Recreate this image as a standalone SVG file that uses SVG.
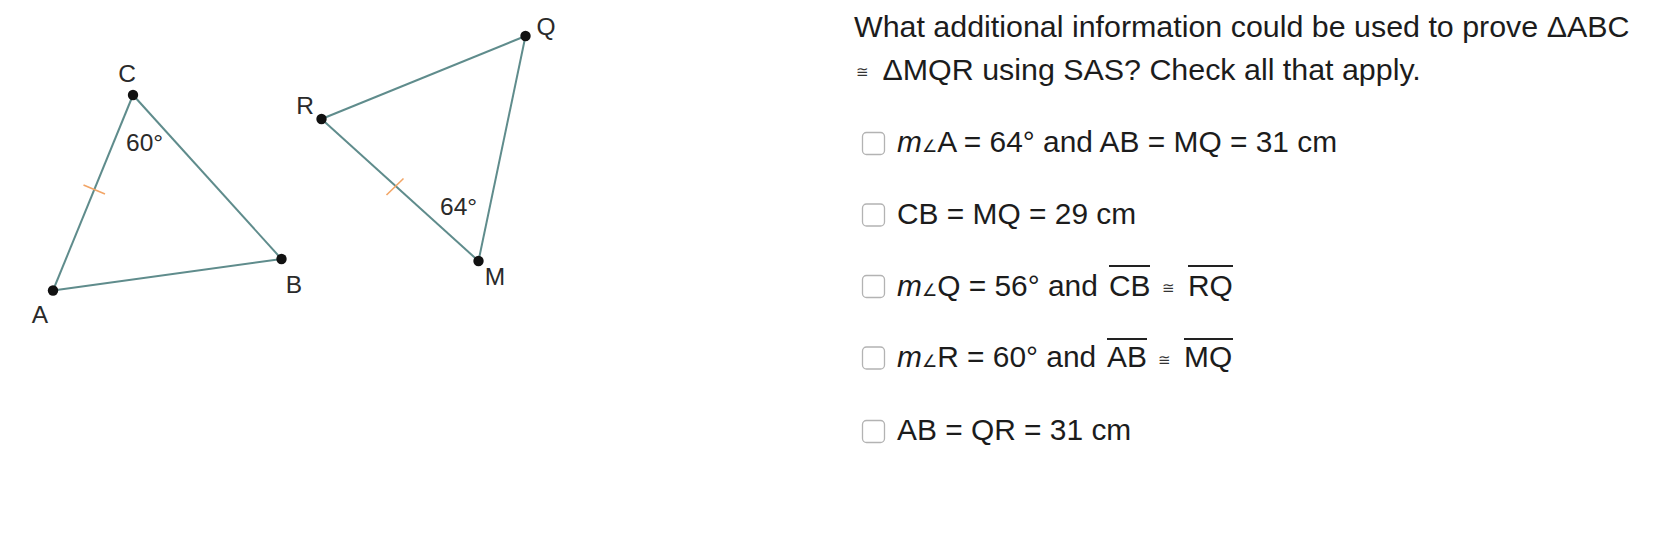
<svg xmlns="http://www.w3.org/2000/svg" width="1668" height="560" viewBox="0 0 1668 560">
<style>
.edge{stroke:#5f8c8c;stroke-width:2;fill:none}
.tick{stroke:#f2a566;stroke-width:1.6}
.dot{fill:#111}
.lbl{font-family:"Liberation Sans","DejaVu Sans",sans-serif;font-size:24.5px;fill:#2a2a2a}
.q{font-family:"Liberation Sans","DejaVu Sans",sans-serif;font-size:30.4px;fill:#1c1c1c}
.opt{font-family:"Liberation Sans","DejaVu Sans",sans-serif;font-size:29.9px;fill:#1c1c1c}
.sm{font-family:"DejaVu Sans",sans-serif;font-size:15px;fill:#333}
.ang{font-family:"DejaVu Sans",sans-serif;font-size:17px}
.box{fill:#fff;stroke:#b3b3b3;stroke-width:1.3}
.bar{stroke:#222;stroke-width:2}
</style>
<rect width="1668" height="560" fill="#fff"/>
<g id="connectors">
<line class="edge" x1="133" y1="95" x2="53" y2="290.5"/>
<line class="edge" x1="133" y1="95" x2="281.5" y2="259"/>
<line class="edge" x1="53" y1="290.5" x2="281.5" y2="259"/>
<line class="edge" x1="321.5" y1="119" x2="525.5" y2="36"/>
<line class="edge" x1="321.5" y1="119" x2="478.5" y2="261"/>
<line class="edge" x1="525.5" y1="36" x2="478.5" y2="261"/>
<line class="tick" x1="83.5" y1="185" x2="105" y2="194"/>
<line class="tick" x1="386.5" y1="195" x2="403.5" y2="178.5"/>
</g>
<g id="node-C"><circle class="dot" cx="133" cy="95" r="5.2"/><text class="lbl" x="127" y="81.5" text-anchor="middle">C</text></g>
<g id="node-A"><circle class="dot" cx="53" cy="290.5" r="5.2"/><text class="lbl" x="40" y="323" text-anchor="middle">A</text></g>
<g id="node-B"><circle class="dot" cx="281.5" cy="259" r="5.2"/><text class="lbl" x="294" y="293" text-anchor="middle">B</text></g>
<g id="node-R"><circle class="dot" cx="321.5" cy="119" r="5.2"/><text class="lbl" x="305" y="114" text-anchor="middle">R</text></g>
<g id="node-Q"><circle class="dot" cx="525.5" cy="36" r="5.2"/><text class="lbl" x="546" y="35" text-anchor="middle">Q</text></g>
<g id="node-M"><circle class="dot" cx="478.5" cy="261" r="5.2"/><text class="lbl" x="495" y="285" text-anchor="middle">M</text></g>
<g id="angle-C"><text class="lbl" x="126" y="151">60°</text></g>
<g id="angle-M"><text class="lbl" x="440" y="215">64°</text></g>
<g id="question">
<text class="q" x="854" y="37">What additional information could be used to prove ΔABC</text>
<text class="sm" x="856" y="77">≅</text>
<text class="q" x="882.5" y="80">ΔMQR using SAS? Check all that apply.</text>
</g>
<g id="option-1">
<rect class="box" x="862.5" y="132.5" width="22" height="22" rx="4"/>
<text class="opt" x="897" y="152"><tspan font-style="italic">m</tspan><tspan class="ang">∠</tspan>A = 64° and AB = MQ = 31 cm</text>
</g>
<g id="option-2">
<rect class="box" x="862.5" y="204" width="22" height="22" rx="4"/>
<text class="opt" x="897" y="224">CB = MQ = 29 cm</text>
</g>
<g id="option-3">
<rect class="box" x="862.5" y="275.5" width="22" height="22" rx="4"/>
<text class="opt" x="897" y="295.5"><tspan font-style="italic">m</tspan><tspan class="ang">∠</tspan>Q = 56° and</text>
<text class="opt" x="1109" y="295.5">CB</text>
<text class="sm" x="1162" y="293">≅</text>
<text class="opt" x="1188" y="295.5">RQ</text>
<line class="bar" x1="1109" y1="266" x2="1150" y2="266"/>
<line class="bar" x1="1188" y1="266" x2="1233" y2="266"/>
</g>
<g id="option-4">
<rect class="box" x="862.5" y="347" width="22" height="22" rx="4"/>
<text class="opt" x="897" y="367"><tspan font-style="italic">m</tspan><tspan class="ang">∠</tspan>R = 60° and</text>
<text class="opt" x="1107" y="367">AB</text>
<text class="sm" x="1158" y="364.5">≅</text>
<text class="opt" x="1184" y="367">MQ</text>
<line class="bar" x1="1107" y1="339" x2="1147" y2="339"/>
<line class="bar" x1="1184" y1="339" x2="1233" y2="339"/>
</g>
<g id="option-5">
<rect class="box" x="862.5" y="420.5" width="22" height="22" rx="4"/>
<text class="opt" x="897" y="439.5">AB = QR = 31 cm</text>
</g>
</svg>
